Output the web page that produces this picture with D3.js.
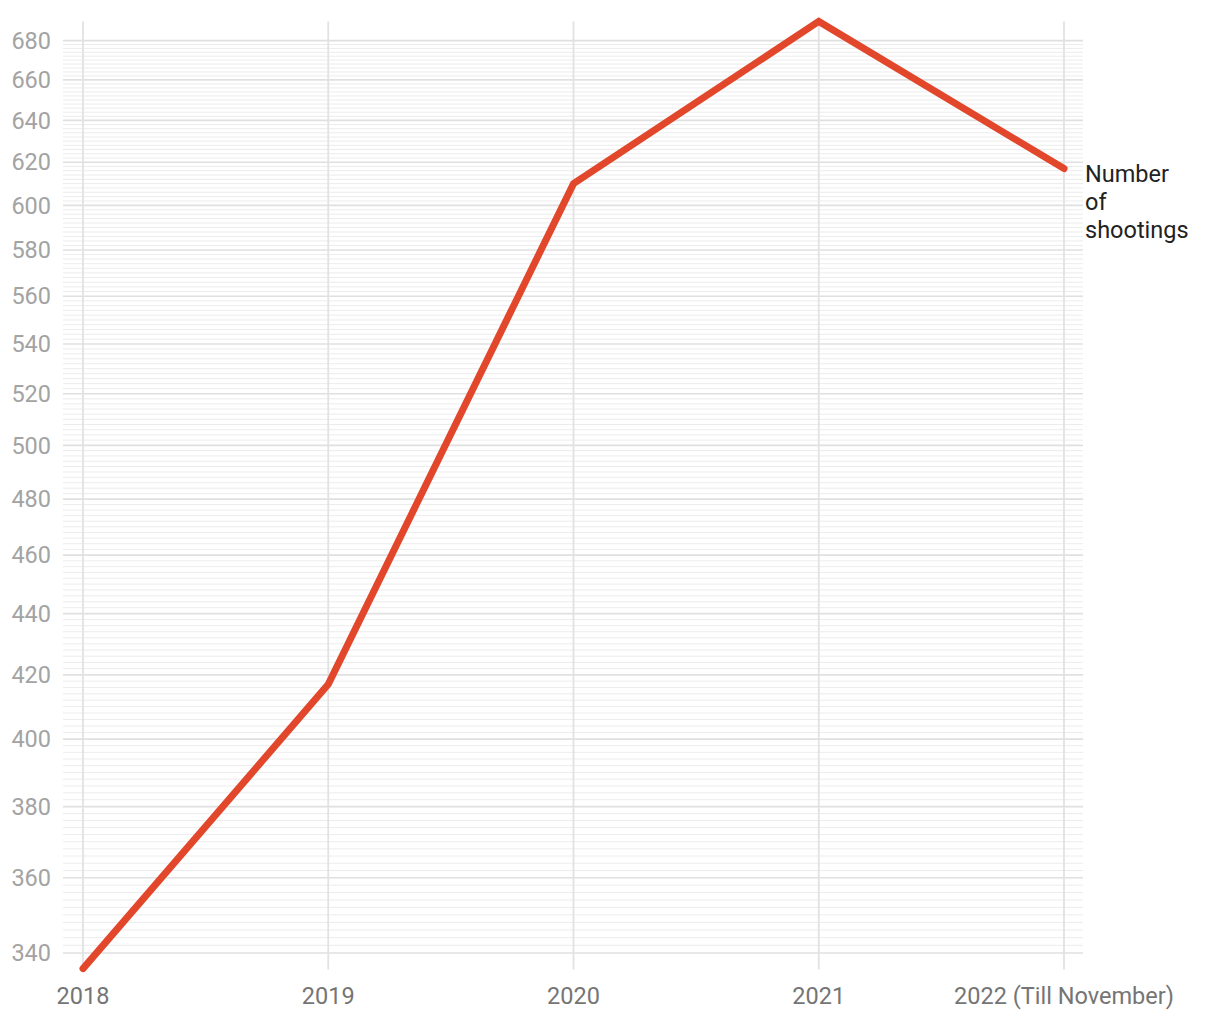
<!DOCTYPE html>
<html>
<head>
<meta charset="utf-8">
<script src="https://cdn.jsdelivr.net/npm/d3@7"></script>
<style>
  html, body { margin: 0; padding: 0; background: #fff; }
  svg { display: block; font-family: Roboto, "Noto Sans", sans-serif; }
</style>
</head>
<body>
<svg id="chart" width="1220" height="1020"></svg>
<script>
const years = ["2018", "2019", "2020", "2021", "2022 (Till November)"];
const shootings = [336, 417, 610, 690, 617];
const majorTicks = [340, 360, 380, 400, 420, 440, 460, 480, 500, 520, 540, 560, 580, 600, 620, 640, 660, 680];
const minorStep = 2;
const seriesLabel = ["Number", "of", "shootings"];

const svg = d3.select("#chart");

const x = d3.scalePoint().domain(years).range([83, 1064]);
const y = d3.scaleLog().domain(d3.extent(shootings)).range([968.6, 21.4]);

const gridLeft = 63, gridRight = 1083;

// minor gridlines
const minorTicks = d3.range(340, 680 + 0.001, minorStep).filter(v => v % 20 !== 0);
svg.append("g").selectAll("line").data(minorTicks).join("line")
  .attr("x1", gridLeft).attr("x2", gridRight)
  .attr("y1", d => y(d)).attr("y2", d => y(d))
  .attr("stroke", "#ececec").attr("stroke-width", 1);

// major gridlines
svg.append("g").selectAll("line").data(majorTicks).join("line")
  .attr("x1", gridLeft).attr("x2", gridRight)
  .attr("y1", d => y(d)).attr("y2", d => y(d))
  .attr("stroke", "#e0e0e0").attr("stroke-width", 1.6);

// vertical gridlines
svg.append("g").selectAll("line").data(years).join("line")
  .attr("x1", d => x(d)).attr("x2", d => x(d))
  .attr("y1", y.range()[1]).attr("y2", y.range()[0] + 1)
  .attr("stroke", "#e2e2e2").attr("stroke-width", 1.8);

// y axis labels
svg.append("g").selectAll("text").data(majorTicks).join("text")
  .attr("x", 51).attr("y", d => y(d))
  .attr("dy", "0.35em")
  .attr("text-anchor", "end")
  .attr("font-size", 23.5)
  .attr("fill", "#a3a3a3")
  .text(d => d);

// x axis labels
svg.append("g").selectAll("text").data(years).join("text")
  .attr("x", d => x(d)).attr("y", 1004)
  .attr("text-anchor", "middle")
  .attr("font-size", 23.5)
  .attr("fill", "#757575")
  .text(d => d);

// line
const line = d3.line().x((d, i) => x(years[i])).y(d => y(d));
svg.append("path").datum(shootings)
  .attr("d", line)
  .attr("fill", "none")
  .attr("stroke", "#e2472b")
  .attr("stroke-width", 7)
  .attr("stroke-linecap", "round")
  .attr("stroke-linejoin", "miter");

// series label
const last = shootings.length - 1;
const lbl = svg.append("text")
  .attr("x", 1085).attr("y", y(shootings[last]) + 13)
  .attr("font-size", 23.5)
  .attr("fill", "#222");
seriesLabel.forEach((t, i) => {
  lbl.append("tspan").attr("x", 1085).attr("dy", i === 0 ? 0 : 28).text(t);
});
</script>
</body>
</html>
